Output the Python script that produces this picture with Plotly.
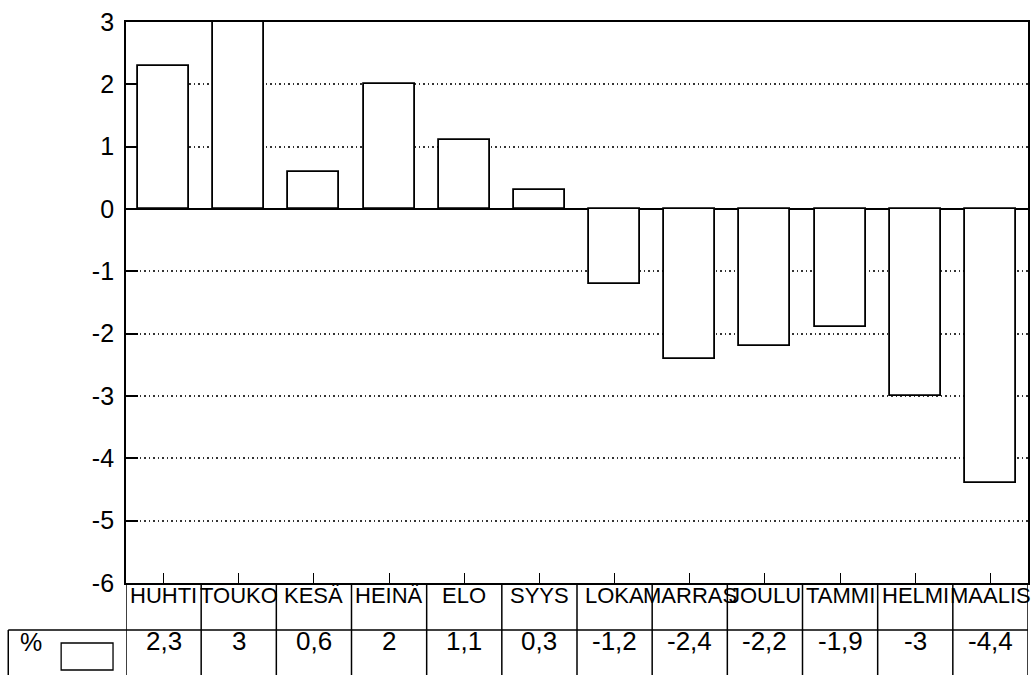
import plotly.graph_objects as go

# kuukaudet ja muutos-%
kuukaudet = ['HUHTI', 'TOUKO', 'KESÄ', 'HEINÄ', 'ELO', 'SYYS',
             'LOKA', 'MARRAS', 'JOULU', 'TAMMI', 'HELMI', 'MAALIS']
muutos = [2.3, 3, 0.6, 2, 1.1, 0.3, -1.2, -2.4, -2.2, -1.9, -3, -4.4]
sarja = '%'
y_tikit = [3, 2, 1, 0, -1, -2, -3, -4, -5, -6]

W, H = 1032, 675
L, R, T, B = 126, 2, 22, 675 - 583
plot_w = W - L - R
plot_h = H - T - B
fontti = 'Liberation Sans, Arial, Helvetica, sans-serif'


def px_y(y):
    # pikseli -> paper-y
    return (H - B - y) / plot_h


def px_x(x):
    return (x - L) / plot_w


def fmt(v):
    return ('%g' % v).replace('.', ',')


fig = go.Figure(go.Bar(
    x=list(range(len(kuukaudet))), y=muutos, width=0.68,
    marker=dict(color='white', line=dict(color='black', width=1.8)),
    name=sarja, showlegend=False))

fig.update_layout(
    width=W, height=H, margin=dict(l=L, r=R, t=T, b=B),
    paper_bgcolor='white', plot_bgcolor='white',
    font=dict(family=fontti, color='black'),
    bargap=0,
    xaxis=dict(range=[-0.5, len(kuukaudet) - 0.5], tickvals=list(range(len(kuukaudet))),
               showticklabels=False, ticks='inside', ticklen=10, tickwidth=1.3, tickcolor='black',
               showgrid=False, zeroline=False, showline=True, linecolor='black', linewidth=1.8,
               mirror=True),
    yaxis=dict(range=[-6, 3], tickvals=y_tikit, ticktext=[str(v) for v in y_tikit],
               ticks='inside', ticklen=12, tickwidth=1.8, tickcolor='black',
               tickfont=dict(size=25, family=fontti), ticklabelstandoff=5,
               ticklabeloverflow='allow',
               showgrid=True, gridcolor='#333', gridwidth=1.5, griddash='1.5px,3px',
               zeroline=True, zerolinecolor='black', zerolinewidth=2,
               showline=True, linecolor='black', linewidth=1.8, mirror=True),
)

viiva = dict(color='black', width=1.5)
rivi1_ala = px_y(630)
rivi2_ala = px_y(H + 2)

# taulukon pystyviivat
for i in range(len(kuukaudet) + 1):
    fig.add_shape(type='line', xref='x', yref='paper', x0=i - 0.5, x1=i - 0.5,
                  y0=0, y1=rivi2_ala, line=viiva)
# vaakaviiva ja vasen reuna
fig.add_shape(type='line', xref='paper', yref='paper', x0=px_x(8), x1=1,
              y0=rivi1_ala, y1=rivi1_ala, line=viiva)
fig.add_shape(type='line', xref='paper', yref='paper', x0=px_x(8), x1=px_x(8),
              y0=rivi1_ala, y1=rivi2_ala, line=viiva)
# selitelaatikko
fig.add_shape(type='rect', xref='paper', yref='paper', x0=px_x(61), x1=px_x(113),
              y0=px_y(643), y1=px_y(670), line=dict(color='black', width=1.3),
              fillcolor='white')

for i, (k, v) in enumerate(zip(kuukaudet, muutos)):
    fig.add_annotation(x=i, y=px_y(610), xref='x', yref='paper', text=k,
                       showarrow=False, font=dict(size=22, family=fontti))
    fig.add_annotation(x=i, y=px_y(658), xref='x', yref='paper', text=fmt(v),
                       showarrow=False, font=dict(size=26, family=fontti))

fig.add_annotation(x=px_x(31), y=px_y(658), xref='paper', yref='paper', text=sarja,
                   xanchor='center', showarrow=False, font=dict(size=25, family=fontti))

# body-marginaali pois, ettei kuva siirry
fig.write_html('out.html', config={'displayModeBar': False},
               post_script="document.body.style.margin='0';document.body.style.overflow='hidden';")
